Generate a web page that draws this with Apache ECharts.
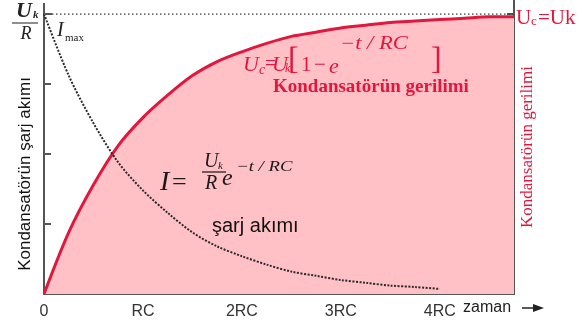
<!DOCTYPE html>
<html>
<head>
<meta charset="utf-8">
<style>
  html, body { margin: 0; padding: 0; background: #ffffff; }
  #chart { width: 585px; height: 326px; }
</style>
<script src="https://cdn.jsdelivr.net/npm/echarts@6/dist/echarts.min.js"></script>
</head>
<body>
<div id="chart"></div>
<script>
// Time in units of RC
const timeRC = [0, 0.25, 0.5, 0.75, 1, 1.25, 1.5, 1.75, 2, 2.25, 2.5, 2.75, 3, 3.25, 3.5, 3.75, 4, 4.25, 4.5, 4.75];
// Capacitor voltage Uc / Uk
const capacitorVoltage = [0, 0.22, 0.39, 0.53, 0.63, 0.71, 0.78, 0.83, 0.865, 0.895, 0.92, 0.935, 0.95, 0.96, 0.97, 0.975, 0.98, 0.985, 0.99, 0.99];
// Charging current I / (Uk/R)
const chargingCurrent = [1, 0.78, 0.61, 0.47, 0.37, 0.29, 0.22, 0.17, 0.135, 0.105, 0.08, 0.065, 0.05, 0.04, 0.03, 0.025, 0.018, null, null, null];
// Upper limit Uk/R and Uk
const limitTime = [0, 4.75];
const limitLevel = [1, 1];
// Tick labels of the time axis
const timeTickLabels = ['0', 'RC', '2RC', '3RC', '4RC'];

const RED = '#e3173e';
const PINK = '#ffc0c6';
const AXIS = '#555555';
const SERIF = '"Liberation Serif", "Times New Roman", serif';
const SANS = '"Liberation Sans", Arial, sans-serif';

const pairs = (xs, ys) => xs.map((x, i) => [x, ys[i]]).filter(p => p[1] !== null);

function txt(x, y, text, font, fill, align, extra) {
  return Object.assign({
    type: 'text', x: x, y: y, z: 100,
    style: {
      text: text, x: 0, y: 0, font: font, fill: fill,
      align: align || 'left', textAlign: align || 'left',
      verticalAlign: 'middle', textVerticalAlign: 'middle'
    }
  }, extra || {});
}
function seg(x1, y1, x2, y2, color, w) {
  return { type: 'line', z: 100, shape: { x1: x1, y1: y1, x2: x2, y2: y2 },
           style: { stroke: color, lineWidth: w } };
}

const chart = echarts.init(document.getElementById('chart'), null, { renderer: 'canvas' });

chart.setOption({
  animation: false,
  backgroundColor: '#ffffff',
  grid: { left: 44, right: 71, top: 14, bottom: 32 },
  xAxis: {
    type: 'value', min: 0, max: 4.75, interval: 1,
    axisLine: { lineStyle: { color: AXIS, width: 2 } },
    axisTick: { inside: true, length: 6, lineStyle: { color: AXIS, width: 2 } },
    splitLine: { show: false },
    axisLabel: {
      margin: 10, fontSize: 16, color: '#333', fontFamily: SANS,
      showMaxLabel: false,
      formatter: v => (Number.isInteger(v) && timeTickLabels[v] !== undefined) ? timeTickLabels[v] : ''
    }
  },
  yAxis: [
    {
      type: 'value', min: 0, max: 1, interval: 0.25, position: 'left',
      axisLine: { show: true, lineStyle: { color: AXIS, width: 2 } },
      axisTick: { show: true, inside: true, length: 7, lineStyle: { color: AXIS, width: 2 } },
      axisLabel: { show: false }, splitLine: { show: false }
    },
    {
      type: 'value', min: 0, max: 1, interval: 0.25, position: 'right',
      axisLine: { show: true, lineStyle: { color: AXIS, width: 2 } },
      axisTick: { show: true, inside: true, length: 7, lineStyle: { color: AXIS, width: 2 } },
      axisLabel: { show: false }, splitLine: { show: false }
    }
  ],
  series: [
    {
      name: 'Uc', type: 'line', data: pairs(timeRC, capacitorVoltage),
      smooth: 0.3, showSymbol: false, z: 2,
      lineStyle: { color: RED, width: 3 },
      areaStyle: { color: PINK, opacity: 1 }
    },
    {
      name: 'limit', type: 'line', data: pairs(limitTime, limitLevel),
      showSymbol: false, z: 3,
      lineStyle: { color: '#444', width: 1.5, type: [1.5, 2.5] }
    },
    {
      name: 'I', type: 'line', data: pairs(timeRC, chargingCurrent),
      smooth: 0.3, showSymbol: false, z: 4,
      lineStyle: { color: '#2a2a2a', width: 2, type: [2, 1.5] }
    }
  ],
  graphic: [
    // axis lines run a little above the plot
    seg(44, 3, 44, 14, AXIS, 2),
    seg(514, 0, 514, 14, AXIS, 2),
    seg(44, 14, 52, 14, AXIS, 2),

    // Uk / R
    txt(24, 11, 'U', 'italic bold 22px ' + SERIF, '#222', 'center'),
    txt(33, 15, 'k', 'italic bold 11px ' + SERIF, '#222'),
    seg(12, 23, 38, 23, '#444', 1.2),
    txt(26, 34, 'R', 'italic 18px ' + SERIF, '#222', 'center'),

    // Imax
    txt(57, 31, 'I', 'italic 20px ' + SERIF, '#222'),
    txt(65, 38, 'max', '11px ' + SERIF, '#222'),

    // Uc = Uk[1 - e^(-t/RC)]
    txt(243, 65, 'U', 'italic 22px ' + SERIF, RED),
    txt(259, 70, 'c', 'italic 14px ' + SERIF, RED),
    txt(265, 65, '=', '20px ' + SERIF, RED),
    txt(272, 65, 'U', 'italic 22px ' + SERIF, RED),
    txt(285, 69, 'k', 'italic 12px ' + SERIF, RED),
    txt(288, 61, '[', '32px ' + SERIF, RED),
    txt(301, 65, '1', '21px ' + SERIF, RED),
    txt(314, 65, '\u2212', '21px ' + SERIF, RED),
    txt(329, 67, 'e', 'italic 22px ' + SERIF, RED),
    txt(340, 44, '\u2212t / RC', 'italic 18px ' + SERIF, RED, 'left', { scaleX: 1.25 }),
    txt(431, 61, ']', '32px ' + SERIF, RED),
    txt(273, 87, 'Kondansatörün gerilimi', 'bold 19px ' + SERIF, RED),

    // I = Uk/R e^(-t/RC)
    txt(160, 183, 'I', 'italic 28px ' + SERIF, '#1a1a1a'),
    txt(172, 183, '=', '26px ' + SERIF, '#1a1a1a'),
    txt(204, 162, 'U', 'italic 20px ' + SERIF, '#1a1a1a'),
    txt(218, 166, 'k', 'italic 11px ' + SERIF, '#1a1a1a'),
    seg(202, 172, 226, 172, '#222', 1.3),
    txt(205, 184, 'R', 'italic 20px ' + SERIF, '#1a1a1a'),
    txt(222, 179, 'e', 'italic 24px ' + SERIF, '#1a1a1a'),
    txt(236, 167, '\u2212t / RC', 'italic 15px ' + SERIF, '#1a1a1a', 'left', { scaleX: 1.25 }),
    txt(212, 226, 'şarj akımı', '20px ' + SANS, '#111'),

    // time axis title with arrow
    txt(463, 308, 'zaman', '16px ' + SANS, '#222'),
    seg(522, 308, 536, 308, '#222', 1.5),
    { type: 'polygon', z: 100, shape: { points: [[533, 304], [544, 308], [533, 312]] }, style: { fill: '#222' } },

    // Uc = Uk at the right
    txt(516, 18, 'U', '21px ' + SERIF, RED),
    txt(531, 22, 'c', '13px ' + SERIF, RED),
    txt(538, 18, '=Uk', '21px ' + SERIF, RED),

    // rotated side titles
    txt(528, 147, 'Kondansatörün gerilimi', '17px ' + SERIF, RED, 'center', { rotation: Math.PI / 2 }),
    txt(25, 174, 'Kondansatörün şarj akımı', '17px ' + SANS, '#111', 'center', { rotation: Math.PI / 2 })
  ]
});
</script>
</body>
</html>
